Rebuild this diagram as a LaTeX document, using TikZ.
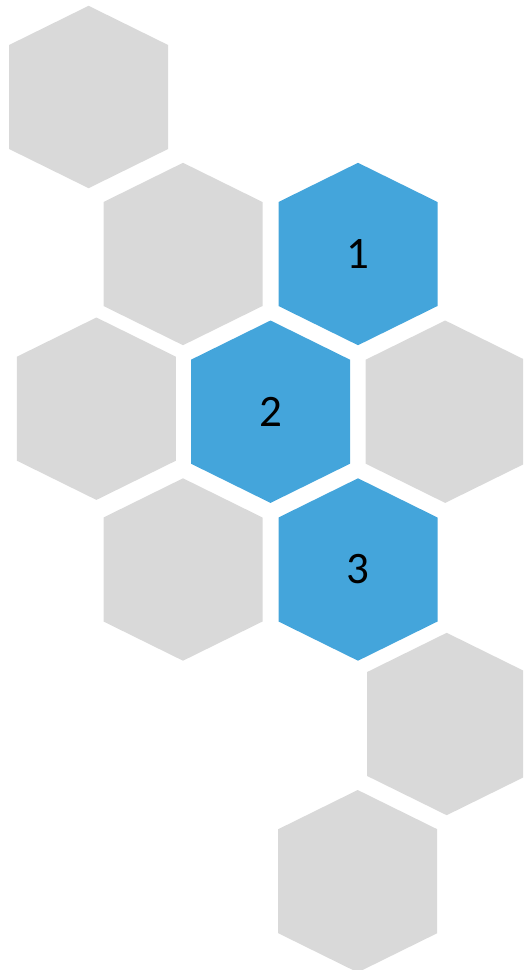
\documentclass[tikz,border=0pt]{standalone}
\usepackage{fontspec}
\setmainfont{Carlito}
\definecolor{hexgrey}{HTML}{D9D9D9}
\definecolor{hexblue}{HTML}{44A5DB}
\tikzset{
  hexshape/.style={fill=#1},
  hexlabel/.style={font=\fontsize{45}{50}\selectfont, text=black, inner sep=0pt}
}
\newcommand{\hexcell}[3]{%
  \fill[hexshape=#3, shift={(#1,#2)}] (-79.5,-52) -- (0,-91.2) -- (79.5,-52) -- (79.5,52) -- (0,91.2) -- (-79.5,52) -- cycle;}
\begin{document}
\begin{tikzpicture}[x=1pt,y=-1pt]
\useasboundingbox (0,0) rectangle (523,970);
\begin{scope}
\clip (0,0) rectangle (523,970);
\hexcell{88.6}{97}{hexgrey}
\hexcell{183}{254}{hexgrey}
\hexcell{358}{254}{hexblue}
\hexcell{96.4}{408.7}{hexgrey}
\hexcell{270.5}{411.7}{hexblue}
\hexcell{445.2}{411.7}{hexgrey}
\hexcell{183}{569.5}{hexgrey}
\hexcell{358}{569.5}{hexblue}
\hexcell{446.7}{724}{hexgrey}
\hexcell{357.7}{881.2}{hexgrey}
\end{scope}
\node[hexlabel] (l1) at (358,254) {1};
\node[hexlabel] (l2) at (270.5,411.7) {2};
\node[hexlabel] (l3) at (358,569.5) {3};
\end{tikzpicture}
\end{document}
